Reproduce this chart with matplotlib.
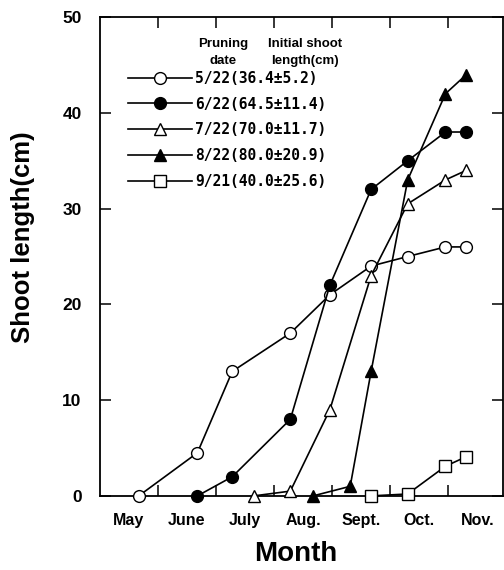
import matplotlib
matplotlib.use('Agg')
import matplotlib.pyplot as plt

plt.rcParams['font.family'] = ['Liberation Sans', 'DejaVu Sans']
plt.rcParams['font.weight'] = 'bold'

# x positions in months (5.0 = May 1st)
month_names = ['May', 'June', 'July', 'Aug.', 'Sept.', 'Oct.', 'Nov.']

x_522 = [5.67, 6.68, 7.28, 8.28, 8.96, 9.67, 10.30, 10.95, 11.31]
y_522 = [0, 4.5, 13, 17, 21, 24, 25, 26, 26]

x_622 = [6.68, 7.28, 8.28, 8.96, 9.67, 10.30, 10.95, 11.31]
y_622 = [0, 2, 8, 22, 32, 35, 38, 38]

x_722 = [7.65, 8.28, 8.96, 9.67, 10.30, 10.95, 11.31]
y_722 = [0, 0.5, 9, 23, 30.5, 33, 34]

x_822 = [8.67, 9.31, 9.67, 10.30, 10.95, 11.31]
y_822 = [0, 1, 13, 33, 42, 44]

x_921 = [9.67, 10.30, 10.95, 11.31]
y_921 = [0, 0.2, 3.1, 4.1]

labels = ['5/22(36.4\u00b15.2)', '6/22(64.5\u00b111.4)', '7/22(70.0\u00b111.7)',
          '8/22(80.0\u00b120.9)', '9/21(40.0\u00b125.6)']

fig = plt.figure(figsize=(5.04, 5.70), dpi=100)
ax = fig.add_axes([0.198, 0.130, 0.80, 0.840])

series = [
    (x_522, y_522, 'o', 'white', 8.5),
    (x_622, y_622, 'o', 'black', 8.5),
    (x_722, y_722, '^', 'white', 8.5),
    (x_822, y_822, '^', 'black', 8.5),
    (x_921, y_921, 's', 'white', 9),
]
for (xs, ys, m, fc, ms), lab in zip(series, labels):
    ax.plot(xs, ys, color='black', lw=1.2, marker=m, mfc=fc, mec='black',
            mew=1.0, ms=ms, label=lab, clip_on=False, zorder=3)

ax.set_xlim(5.0, 11.94)
ax.set_ylim(0, 50)

ax.set_xticks(range(6, 12))
ax.set_xticklabels([])
ax.set_xticks([5.5 + i for i in range(7)], minor=True)
ax.set_xticklabels(month_names, minor=True, fontsize=11.5, fontweight='bold')
ax.tick_params(axis='x', which='major', direction='in', length=8, width=1.1,
               top=True)
ax.tick_params(axis='x', which='minor', length=0, pad=12)

ax.set_yticks([0, 10, 20, 30, 40, 50])
ax.set_yticklabels(['0', '10', '20', '30', '40', '50'], fontsize=12.5,
                   fontweight='bold')
ax.tick_params(axis='y', direction='in', length=8, width=1.1, right=True,
               pad=13)

for s in ax.spines.values():
    s.set_linewidth(1.3)

ax.set_xlabel('Month', fontsize=20, fontweight='bold')
ax.xaxis.set_label_coords(0.486, -0.094)
ax.set_ylabel('Shoot length(cm)', fontsize=18.5, fontweight='bold')
ax.yaxis.set_label_coords(-0.16, 0.54)

hdr = dict(transform=ax.transAxes, ha='center', va='center', fontsize=9.5,
           fontweight='bold')
ax.text(0.305, 0.943, 'Pruning', **hdr)
ax.text(0.305, 0.909, 'date', **hdr)
ax.text(0.508, 0.943, 'Initial shoot', **hdr)
ax.text(0.508, 0.909, 'length(cm)', **hdr)

ax.legend(loc='upper left', bbox_to_anchor=(0.07, 0.888), frameon=False,
          prop={'family': 'DejaVu Sans Mono', 'weight': 'bold', 'size': 10.5},
          handlelength=4.4, handletextpad=0.2, labelspacing=0.74,
          borderaxespad=0, borderpad=0)

fig.savefig('out.png', dpi=100)
